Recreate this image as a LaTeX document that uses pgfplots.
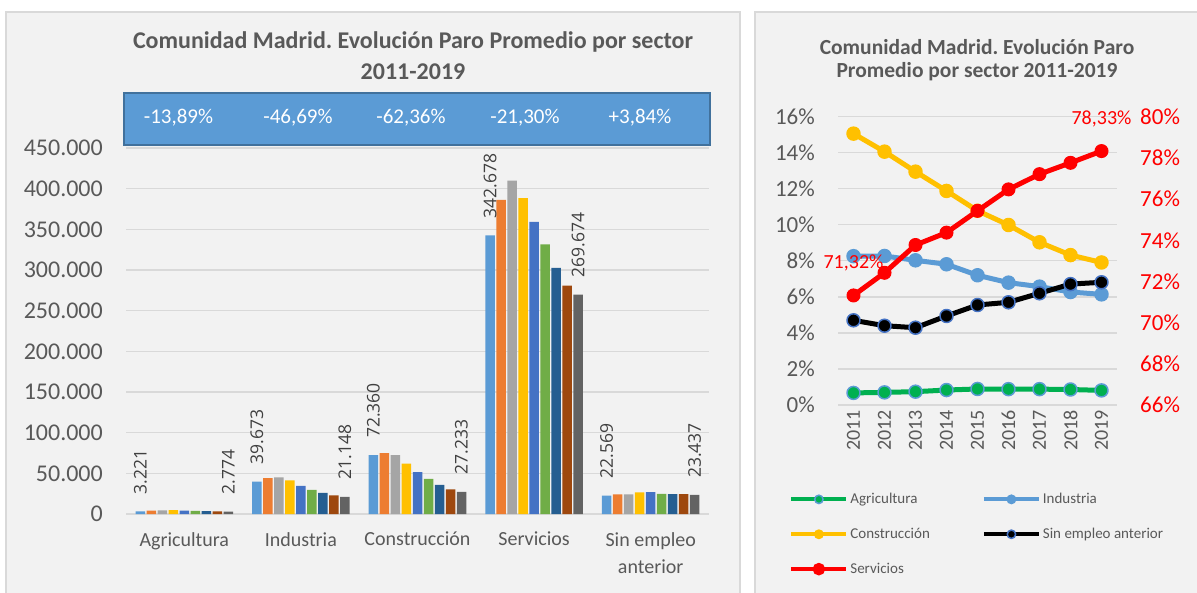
\documentclass[border=0pt]{standalone}
\usepackage{fontspec}
\setmainfont{Carlito}
\newfontfamily\lblfont{Open Sans}
\usepackage{pgfplots}
\pgfplotsset{compat=1.18}
\definecolor{panel}{HTML}{F2F2F2}
\definecolor{panelborder}{HTML}{D9D9D9}
\definecolor{gridc}{HTML}{D9D9D9}
\definecolor{textgray}{HTML}{595959}
\definecolor{lblgray}{HTML}{404040}
\definecolor{boxblue}{HTML}{5B9BD5}
\definecolor{boxborder}{HTML}{41719C}
\definecolor{c1}{HTML}{5B9BD5}
\definecolor{c2}{HTML}{ED7D31}
\definecolor{c3}{HTML}{A5A5A5}
\definecolor{c4}{HTML}{FFC000}
\definecolor{c5}{HTML}{4472C4}
\definecolor{c6}{HTML}{70AD47}
\definecolor{c7}{HTML}{255E91}
\definecolor{c8}{HTML}{9E480E}
\definecolor{c9}{HTML}{636363}
\definecolor{agri}{HTML}{00B050}
\newcommand{\fs}[1]{\fontsize{#1}{#1}\selectfont}
\frenchspacing
\begin{document}
\begin{tikzpicture}[x=1pt,y=1pt]
\useasboundingbox (0,0) rectangle (1197,592);
\fill[white] (0,0) rectangle (1197,592);
% panels
\filldraw[fill=panel, draw=panelborder, line width=1.5pt] (6,-10) rectangle (740,580);
\filldraw[fill=panel, draw=panelborder, line width=1.5pt] (755,-10) rectangle (1215,580);
% left titles
\node[font=\fs{24}\bfseries, text=textgray] at (413,550) {Comunidad Madrid. Evolución Paro Promedio por sector};
\node[font=\fs{24}\bfseries, text=textgray] at (413,520) {2011-2019};
% blue box
\filldraw[fill=boxblue, draw=boxborder, line width=2pt] (124,499) rectangle (710,447);
\node[font=\fs{21}, text=white] at (178.5,474) {-13,89\%};
\node[font=\fs{21}, text=white] at (298,474) {-46,69\%};
\node[font=\fs{21}, text=white] at (411,474) {-62,36\%};
\node[font=\fs{21}, text=white] at (525,474) {-21,30\%};
\node[font=\fs{21}, text=white] at (640,474) {+3,84\%};
% right titles
\node[font=\fs{21.5}\bfseries, text=textgray] at (977,545) {Comunidad Madrid. Evolución Paro};
\node[font=\fs{21.5}\bfseries, text=textgray] at (977,520) {Promedio por sector 2011-2019};

\begin{axis}[
  at={(126pt,78pt)}, anchor=south west, scale only axis,
  width=583pt, height=366pt,
  ybar=1.5pt, bar width=9.5pt,
  xmin=-0.5, xmax=4.5, ymin=0, ymax=450000,
  xtick={0,1,2,3,4},
  xticklabels={Agricultura,Industria,Construcción,Servicios,{Sin empleo\\anterior}},
  ytick={0,50000,100000,150000,200000,250000,300000,350000,400000,450000},
  yticklabels={0,50.000,100.000,150.000,200.000,250.000,300.000,350.000,400.000,450.000},
  scaled y ticks=false,
  ymajorgrids, grid style={draw=gridc, line width=1.3pt},
  axis line style={draw=none}, tick style={draw=none}, major tick length=0pt,
  yticklabel style={font=\fs{24}, text=textgray, anchor=east, inner sep=0pt},
  yticklabel shift=23pt,
  xticklabel style={font=\fontsize{20}{27}\selectfont, text=textgray, align=center, anchor=north, inner sep=0pt},
  xticklabel shift=18pt,
  clip=false,
]
\addplot[fill=c1, draw=none, nodes near coords, point meta=explicit symbolic,
  every node near coord/.append style={rotate=90, anchor=west, font=\lblfont\fs{17.5}, text=lblgray, inner xsep=17pt, inner ysep=0pt}]
  coordinates {(0,3221)[3.221] (1,39673)[39.673] (2,72360)[72.360] (3,342678)[342.678] (4,22569)[22.569]};
\addplot[fill=c2, draw=none] coordinates {(0,4000) (1,44150) (2,74950) (3,386200) (4,24000)};
\addplot[fill=c3, draw=none] coordinates {(0,4370) (1,44970) (2,72480) (3,410000) (4,24000)};
\addplot[fill=c4, draw=none] coordinates {(0,4620) (1,41270) (2,61800) (3,388300) (4,26500)};
\addplot[fill=c5, draw=none] coordinates {(0,4300) (1,34700) (2,51540) (3,359100) (4,26900)};
\addplot[fill=c6, draw=none] coordinates {(0,3920) (1,29770) (2,43330) (3,331600) (4,24850)};
\addplot[fill=c7, draw=none] coordinates {(0,3540) (1,26080) (2,35930) (3,302500) (4,24440)};
\addplot[fill=c8, draw=none] coordinates {(0,3150) (1,22790) (2,30180) (3,280700) (4,24440)};
\addplot[fill=c9, draw=none, nodes near coords, point meta=explicit symbolic,
  every node near coord/.append style={rotate=90, anchor=west, font=\lblfont\fs{17.5}, text=lblgray, inner xsep=17pt, inner ysep=0pt}]
  coordinates {(0,2774)[2.774] (1,21148)[21.148] (2,27233)[27.233] (3,269674)[269.674] (4,23437)[23.437]};
\end{axis}

\begin{axis}[
  at={(838pt,187pt)}, anchor=south west, scale only axis,
  width=279pt, height=288.3pt,
  xmin=2010.5, xmax=2019.5, ymin=0, ymax=16,
  xtick={2011,2012,2013,2014,2015,2016,2017,2018,2019},
  xticklabels={2011,2012,2013,2014,2015,2016,2017,2018,2019},
  ytick={0,2,4,6,8,10,12,14,16},
  yticklabels={0\%,2\%,4\%,6\%,8\%,10\%,12\%,14\%,16\%},
  ymajorgrids, grid style={draw=gridc, line width=1.3pt},
  axis line style={draw=none}, tick style={draw=none}, major tick length=0pt,
  yticklabel style={font=\fs{23}, text=textgray, anchor=east, inner sep=0pt},
  yticklabel shift=23pt,
  xticklabel style={font=\fs{20}, text=textgray, rotate=90, anchor=east, inner sep=0pt},
  xticklabel shift=5pt,
  clip=false,
  legend columns=2,
  legend style={at={(-0.175,-0.299)}, anchor=north west, draw=none, fill=none,
    font=\fs{15}, text=textgray, row sep=19pt, inner sep=0pt,
    /tikz/every even column/.append style={column sep=50pt},
    cells={anchor=west}},
  legend image code/.code={\draw[mark repeat=2, mark phase=2, #1, line width=4pt, mark size=4.2pt] plot coordinates {(0pt,0pt) (27.5pt,0pt) (55pt,0pt)};},
]
\addplot[agri, line width=5pt, line join=round, mark=*, mark size=6.5pt, mark options={fill=agri, draw=c1, line width=1.5pt, solid}]
  coordinates {(2011,0.67) (2012,0.70) (2013,0.74) (2014,0.83) (2015,0.89) (2016,0.88) (2017,0.88) (2018,0.86) (2019,0.81)};
\addlegendentry{Agricultura}
\addplot[c1, line width=5pt, line join=round, mark=*, mark size=6.5pt, mark options={fill=c1, draw=c1, line width=1.5pt, solid}]
  coordinates {(2011,8.26) (2012,8.27) (2013,8.03) (2014,7.81) (2015,7.20) (2016,6.79) (2017,6.57) (2018,6.27) (2019,6.14)};
\addlegendentry{Industria}
\addplot[c4, line width=5pt, line join=round, mark=*, mark size=6.5pt, mark options={fill=c4, draw=c4, line width=1.5pt, solid}]
  coordinates {(2011,15.06) (2012,14.06) (2013,12.95) (2014,11.88) (2015,10.78) (2016,9.99) (2017,9.03) (2018,8.32) (2019,7.91)};
\addlegendentry{Construcción}
\addplot[black, line width=5pt, line join=round, mark=*, mark size=6.5pt, mark options={fill=black, draw=c5, line width=1.5pt, solid}]
  coordinates {(2011,4.70) (2012,4.40) (2013,4.29) (2014,4.94) (2015,5.55) (2016,5.70) (2017,6.20) (2018,6.71) (2019,6.81)};
\addlegendentry{Sin empleo anterior}
\addlegendimage{red, line width=5pt, mark=*, mark size=6.5pt, mark options={fill=red, draw=red, solid}}
\addlegendentry{Servicios}
\end{axis}

\begin{axis}[
  at={(838pt,187pt)}, anchor=south west, scale only axis,
  width=279pt, height=288.3pt,
  xmin=2010.5, xmax=2019.5, ymin=66, ymax=80,
  axis y line*=right, axis x line=none,
  ytick={66,68,70,72,74,76,78,80},
  yticklabels={66\%,68\%,70\%,72\%,74\%,76\%,78\%,80\%},
  axis line style={draw=none}, tick style={draw=none}, major tick length=0pt,
  yticklabel style={font=\fs{23}, text=red, anchor=west, inner sep=0pt},
  yticklabel shift=23pt,
  clip=false,
]
\addplot[red, line width=5pt, line join=round, mark=*, mark size=6.5pt, mark options={fill=red, draw=red, line width=1pt, solid},
  nodes near coords, point meta=explicit symbolic,
  every node near coord/.append style={font=\fs{20}, text=red, anchor=center, yshift=32pt}]
  coordinates {(2011,71.32)[71,32\%] (2012,72.42)[] (2013,73.77)[] (2014,74.37)[] (2015,75.43)[] (2016,76.47)[] (2017,77.21)[] (2018,77.76)[] (2019,78.33)[78,33\%]};
\end{axis}
\end{tikzpicture}
\end{document}
